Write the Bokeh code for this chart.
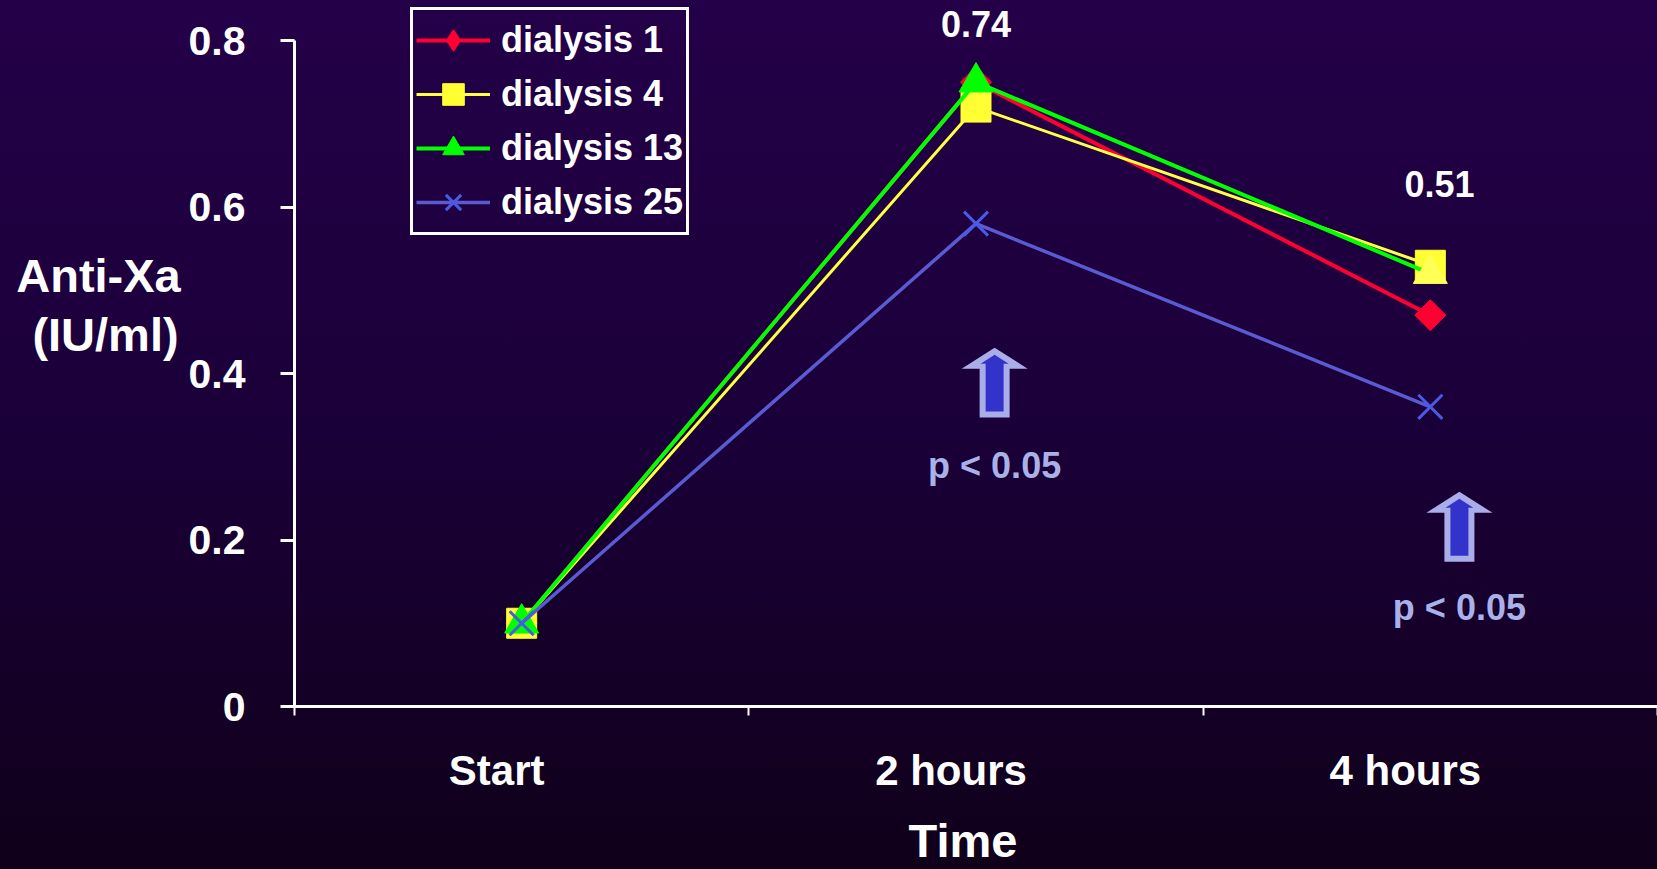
from bokeh.plotting import figure
from bokeh.models import (Range1d, FixedTicker, Label, Legend, LegendItem,
                          ColumnDataSource, LinearAxis)
from bokeh.embed import file_html
from bokeh.resources import INLINE
import math

# ---------------- data ----------------
categories = ["Start", "2 hours", "4 hours"]
x_pos = [0.5, 1.5, 2.5]
dialysis_1 = [0.10, 0.75, 0.47]
dialysis_4 = [0.10, 0.72, 0.53]
dialysis_13 = [0.10, 0.75, 0.52]
dialysis_25 = [0.10, 0.58, 0.36]
series_names = ["dialysis 1", "dialysis 4", "dialysis 13", "dialysis 25"]
y_ticks = [0, 0.2, 0.4, 0.6, 0.8]
y_tick_labels = ["0", "0.2", "0.4", "0.6", "0.8"]
x_boundaries = [0, 1, 2, 3]
value_labels = ["0.74", "0.51"]
value_label_x = [1.5, 2.52]
value_label_y = [0.82, 0.628]
p_labels = ["p < 0.05", "p < 0.05"]
p_label_y = [0.2895, 0.119]
arrow_x = [1.541, 2.564]
arrow_tip = [0.431, 0.258]
arrow_base = [0.347, 0.174]

# ---------------- layout ----------------
W, H = 1657, 869
AX_LEFT = 294      # pixel x of the y axis
AX_ZERO = 706      # pixel y (from top) of y = 0
AX_TOP = 40        # pixel y (from top) of y = 0.8
px_x = (W - AX_LEFT) / 3.0
px_y = (AX_ZERO - AX_TOP) / 0.8
FONT = "Liberation Sans"
WHITE = "#ffffff"

p = figure(width=W, height=H,
           x_range=Range1d(-AX_LEFT / px_x, 3),
           y_range=Range1d(-(H - AX_ZERO) / px_y, AX_ZERO / px_y),
           output_backend="svg", toolbar_location=None,
           x_axis_location=None, y_axis_location=None,
           min_border=0, min_border_left=0, min_border_right=0,
           min_border_top=0, min_border_bottom=0,
           background_fill_color="#1a0038", background_fill_alpha=0,
           border_fill_color="#1a0038", border_fill_alpha=0,
           outline_line_color=None)
p.styles = {"background": "linear-gradient(180deg, #240048 0%, #1a0038 50%, #10001a 100%)"}
p.grid.visible = False

# x axis (drawn at y = 0)
xa = LinearAxis(fixed_location=0, bounds=(0, 3))
xa.ticker = FixedTicker(ticks=x_boundaries)
xa.major_label_overrides = {float(t): "" for t in x_boundaries}
xa.axis_line_color = WHITE
xa.axis_line_width = 3
xa.major_tick_line_color = WHITE
xa.major_tick_line_width = 2
xa.major_tick_out = 9
xa.major_tick_in = 0
xa.minor_tick_line_color = None
p.add_layout(xa, "below")

# y axis (drawn at x = 0)
ya = LinearAxis(fixed_location=0, bounds=(0, 0.8))
ya.ticker = FixedTicker(ticks=y_ticks)
ya.major_label_overrides = {float(t): s for t, s in zip(y_ticks, y_tick_labels)}
ya.axis_line_color = WHITE
ya.axis_line_width = 3
ya.major_tick_line_color = WHITE
ya.major_tick_line_width = 3
ya.major_tick_out = 14
ya.major_tick_in = 0
ya.minor_tick_line_color = None
ya.major_label_standoff = 35
ya.major_label_text_font = FONT
ya.major_label_text_font_style = "bold"
ya.major_label_text_font_size = "41px"
ya.major_label_text_color = WHITE
p.add_layout(ya, "left")

# ---------------- arrows ----------------
def arrow_shape(xc, tip, base, tip_in, head_len, head_hw, shaft_hw, base_in):
    t = tip - tip_in / px_y
    s = t - head_len / px_y
    b = base + base_in / px_y
    xs = [xc, xc + head_hw / px_x, xc + shaft_hw / px_x, xc + shaft_hw / px_x,
          xc - shaft_hw / px_x, xc - shaft_hw / px_x, xc - head_hw / px_x]
    ys = [t, s, s, b, b, s, s]
    return xs, ys


outer = [arrow_shape(x, t, b, 0, 21, 33, 15, 0) for x, t, b in zip(arrow_x, arrow_tip, arrow_base)]
inner = [arrow_shape(x, t, b, 7, 9, 14, 9, 6) for x, t, b in zip(arrow_x, arrow_tip, arrow_base)]
p.patches([o[0] for o in outer], [o[1] for o in outer], fill_color="#aaaee8", line_color=None)
p.patches([o[0] for o in inner], [o[1] for o in inner], fill_color="#3333cc", line_color=None)

# ---------------- series ----------------
styles = [
    dict(color="#ff0033", lw=4, marker="square", size=22, angle=math.pi / 4,
         fills=["#ff0033"] * 3, legend_marker="diamond"),
    dict(color="#ffff44", lw=3, marker="square", size=30, angle=0,
         fills=["#ffff33"] * 3, legend_marker=None),
    dict(color="#00ff00", lw=4, marker="triangle", size=34, angle=0,
         fills=["#00ff00", "#00ff00", "#ffff55"], legend_marker=None),
    dict(color="#5a5ad2", lw=3.5, marker="x", size=34, angle=0,
         fills=["#4a5ae6"] * 3, legend_marker=None),
]
values = [dialysis_1, dialysis_4, dialysis_13, dialysis_25]

items = []
for name, ys, st in zip(series_names, values, styles):
    src = ColumnDataSource(dict(x=x_pos, y=ys, c=st["fills"]))
    rl = p.line("x", "y", source=src, line_color=st["color"], line_width=st["lw"])
    if st["marker"] == "x":
        rm = p.scatter("x", "y", source=src, marker="x", size=st["size"],
                       line_color="c", line_width=3)
    else:
        rm = p.scatter("x", "y", source=src, marker=st["marker"], size=st["size"],
                       angle=st["angle"], fill_color="c", line_color="c", line_width=1)
    legend_renderers = [rl, rm]
    if st["legend_marker"]:
        # legend-only glyph: a diamond shape (the plot uses a rotated square)
        rleg = p.scatter(x=[float("nan")], y=[float("nan")], marker=st["legend_marker"],
                         size=st["size"], fill_color=st["color"], line_color=st["color"])
        legend_renderers = [rl, rleg]
    items.append(LegendItem(label=name, renderers=legend_renderers))

legend = Legend(items=items, location=(410, H - 235), orientation="vertical",
                label_text_font=FONT, label_text_font_style="bold",
                label_text_font_size="36px", label_text_color=WHITE,
                glyph_width=74, glyph_height=54, label_height=54, spacing=0,
                padding=3, margin=0, label_standoff=11,
                border_line_color=WHITE, border_line_width=3, border_line_alpha=1,
                background_fill_alpha=0)
p.add_layout(legend, "center")

# ---------------- text ----------------
for xc, cat in zip(x_pos, categories):
    p.add_layout(Label(x=xc, y=0, x_offset=-25, y_offset=-64, text=cat,
                       text_align="center", text_baseline="middle",
                       text_font=FONT, text_font_style="bold",
                       text_font_size="42px", text_color=WHITE))

p.add_layout(Label(x=1.5, y=0, x_offset=-13, y_offset=-134, text="Time",
                   text_align="center", text_baseline="middle",
                   text_font=FONT, text_font_style="bold",
                   text_font_size="47px", text_color=WHITE))

for txt, yo, xo in [("Anti-Xa", 98, -196), ("(IU/ml)", 39, -189)]:
    p.add_layout(Label(x=0, y=0.4, x_offset=xo, y_offset=yo, text=txt,
                       text_align="center", text_baseline="middle",
                       text_font=FONT, text_font_style="bold",
                       text_font_size="47px", text_color=WHITE))

for txt, xv, yv in zip(value_labels, value_label_x, value_label_y):
    p.add_layout(Label(x=xv, y=yv, text=txt, text_align="center", text_baseline="middle",
                       text_font=FONT, text_font_style="bold",
                       text_font_size="36px", text_color=WHITE))

for txt, xv, yv in zip(p_labels, arrow_x, p_label_y):
    p.add_layout(Label(x=xv, y=yv, text=txt, text_align="center", text_baseline="middle",
                       text_font=FONT, text_font_style="bold",
                       text_font_size="36px", text_color="#aab0e8"))

open("out.html", "w").write(file_html(p, INLINE))
